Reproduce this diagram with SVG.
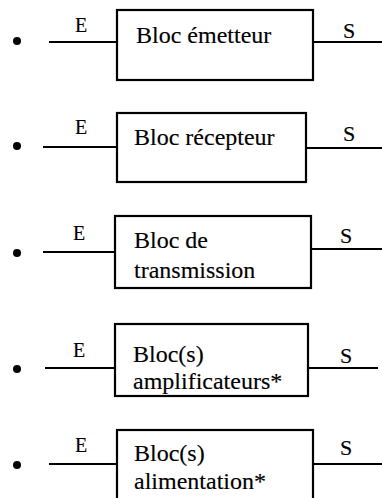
<svg xmlns="http://www.w3.org/2000/svg" width="382" height="498" viewBox="0 0 382 498">
<style>
.box{fill:#fff;stroke:#000;stroke-width:2.2}
.wire{stroke:#000;stroke-width:1.8;fill:none}
.lbl{font-family:"Liberation Serif","Times New Roman",serif;font-size:24px;fill:#000;stroke:#000;stroke-width:0.15}
.io{font-family:"Liberation Serif","Times New Roman",serif;fill:#000;stroke:#000;stroke-width:0.15}
.e{font-size:20px}
.s{font-size:22px}
.dot{fill:#000}
</style>
<rect width="382" height="498" fill="#fff"/>
<g id="connectors">
<line class="wire" x1="49" y1="42" x2="117" y2="42"/>
<line class="wire" x1="313" y1="42" x2="382" y2="42"/>
<line class="wire" x1="43" y1="147" x2="117" y2="147"/>
<line class="wire" x1="306" y1="148" x2="382" y2="148"/>
<line class="wire" x1="43" y1="252" x2="115" y2="252"/>
<line class="wire" x1="311" y1="249" x2="382" y2="249"/>
<line class="wire" x1="45" y1="368" x2="115" y2="368"/>
<line class="wire" x1="308" y1="368" x2="378" y2="368"/>
<line class="wire" x1="49" y1="464" x2="117" y2="464"/>
<line class="wire" x1="313" y1="464" x2="382" y2="464"/>
</g>
<g id="bullets">
<circle class="dot" cx="17" cy="41" r="4"/>
<circle class="dot" cx="17" cy="146" r="4"/>
<circle class="dot" cx="17" cy="253" r="4"/>
<circle class="dot" cx="17" cy="369" r="4"/>
<circle class="dot" cx="17" cy="465" r="4"/>
</g>
<g id="bloc-emetteur">
<rect class="box" x="117" y="10" width="196" height="70"/>
<text class="lbl" x="136" y="43">Bloc émetteur</text>
<text class="io e" x="75" y="32">E</text>
<text class="io s" x="343" y="38">S</text>
</g>
<g id="bloc-recepteur">
<rect class="box" x="117" y="113" width="189" height="69"/>
<text class="lbl" x="134" y="145">Bloc récepteur</text>
<text class="io e" x="75" y="134">E</text>
<text class="io s" x="343" y="141">S</text>
</g>
<g id="bloc-transmission">
<rect class="box" x="115" y="216" width="196" height="72"/>
<text class="lbl" x="134" y="248">Bloc de</text>
<text class="lbl" x="134" y="278">transmission</text>
<text class="io e" x="73" y="240">E</text>
<text class="io s" x="340" y="243">S</text>
</g>
<g id="bloc-amplificateurs">
<rect class="box" x="115" y="324" width="193" height="72"/>
<text class="lbl" x="133" y="362">Bloc(s)</text>
<text class="lbl" x="133" y="389">amplificateurs*</text>
<text class="io e" x="73" y="357">E</text>
<text class="io s" x="340" y="363">S</text>
</g>
<g id="bloc-alimentation">
<rect class="box" x="117" y="430" width="196" height="80"/>
<text class="lbl" x="134" y="461">Bloc(s)</text>
<text class="lbl" x="134" y="489">alimentation*</text>
<text class="io e" x="75" y="452">E</text>
<text class="io s" x="340" y="455">S</text>
</g>
</svg>
